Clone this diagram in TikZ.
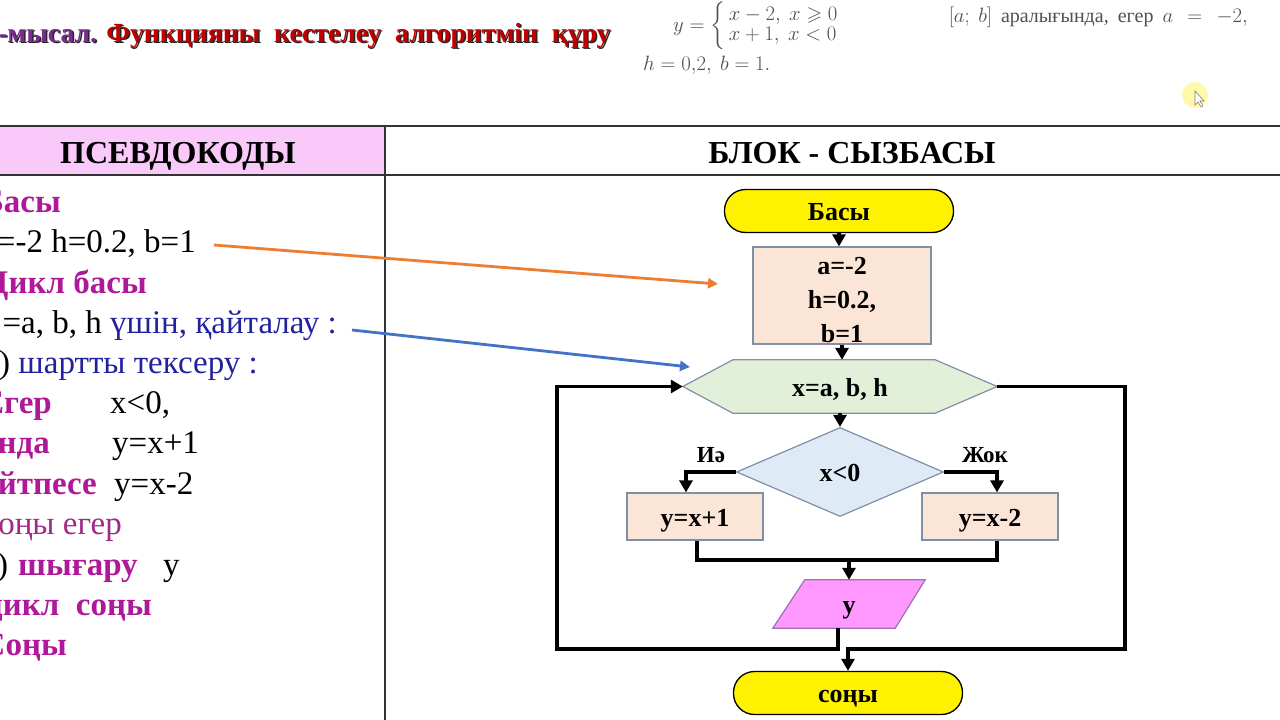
\documentclass[tikz,border=0pt]{standalone}
\usepackage{amsmath,amssymb}
\usepackage[no-math]{fontspec}
\setmainfont{Liberation Serif}
\usetikzlibrary{arrows.meta,shapes.geometric,calc,backgrounds}
\definecolor{mag}{HTML}{B0189A}
\definecolor{magl}{HTML}{A02A88}
\definecolor{navyb}{HTML}{2222A0}
\definecolor{purp}{HTML}{7A2B90}
\definecolor{dred}{HTML}{C00000}
\definecolor{mathgray}{HTML}{505050}
\definecolor{hdrpink}{HTML}{F9C9F9}
\definecolor{peach}{HTML}{FBE5D6}
\definecolor{lgreen}{HTML}{E2F0D9}
\definecolor{lblue}{HTML}{DEEBF7}
\definecolor{outpink}{HTML}{FF99FF}
\definecolor{bordgray}{HTML}{7F8FA6}
\definecolor{bordpurp}{HTML}{9A70B8}
\definecolor{oarrow}{HTML}{ED7D31}
\definecolor{barrow}{HTML}{4472C4}
\begin{document}
\begin{tikzpicture}[x=1pt,y=-1pt,
  code/.style={anchor=base east,inner sep=0pt,font=\fontsize{33}{38}\selectfont},
  codeb/.style={code,text=mag,font=\fontsize{33}{38}\selectfont\bfseries},
  fc/.style={font=\fontsize{26}{34}\selectfont\bfseries,inner sep=0pt,align=center},
  fcl/.style={fc,text height=23pt,text depth=4pt},
  oval/.style={fcl,draw=black,line width=1.3pt,fill=yellow,rounded corners=21pt,minimum width=229pt,minimum height=43pt},
  procbox/.style={fcl,draw=bordgray,line width=1.2pt,fill=peach},
  conn/.style={line width=3.5pt,line join=miter,black},
  arr/.style={conn,-{Triangle[length=12pt,width=13pt]}},
  hint/.style={line width=2.8pt,-{Triangle[length=10pt,width=10pt]}},
  hdr/.style={font=\fontsize{32}{38}\selectfont\bfseries,inner sep=0pt},
  mtext/.style={text=mathgray,inner sep=0pt,font=\fontsize{20}{20}\selectfont}
]
\useasboundingbox (0,0) rectangle (1280,720);

% title
\node[anchor=base west,inner sep=0pt,font=\fontsize{27.7}{30}\selectfont\bfseries,text=black!85] (titleshadow) at (-0.5,43.5) {-мысал. Функцияны~~кестелеу~~алгоритмін~~құру};
\node[anchor=base west,inner sep=0pt,font=\fontsize{27.7}{30}\selectfont\bfseries] (title) at (-2,42) {\textcolor{purp}{-мысал.} \textcolor{dred}{Функцияны~~кестелеу~~алгоритмін~~құру}};

% textbook formula
\node[mtext,anchor=west] (formula) at (673,26) {$y=\left\{\begin{array}{@{\,}l@{}} x-2,\ x\geqslant 0\\ x+1,\ x<0\end{array}\right.$};
\node[mtext,anchor=base east] (interval) at (1248,22) {$[a;\ b]$\hspace{4pt} аралығында,\hspace{4pt} егер\hspace{4pt} $a\ \,=\ \,-2,$};
\node[mtext,anchor=base west] (hval) at (643,70) {$h=0{,}2,\ b=1.$};

% cursor highlight
\fill[yellow!55,opacity=0.6] (1195,95) circle (13);
\draw[gray,line width=0.6pt,fill=white] (1195,91) -- (1195,105) -- (1198,102) -- (1201,107) -- (1203,106) -- (1200,101) -- (1204,101) -- cycle;

% table
\fill[hdrpink] (0,126) rectangle (385,175);
\draw[black!80,line width=1.3pt] (0,126) -- (1280,126);
\draw[black!80,line width=1.3pt] (0,175) -- (1280,175);
\draw[black!80,line width=1.3pt] (385,126) -- (385,720);
\node[hdr,anchor=base] (hdr1) at (178,163) {ПСЕВДОКОДЫ};
\node[hdr,anchor=base] (hdr2) at (852,163) {БЛОК - СЫЗБАСЫ};

% pseudocode
\node[codeb] (l1) at (61,212) {Басы};
\node[code] (l2) at (196,252) {=-2 h=0.2, b=1};
\node[codeb] (l3) at (147,293) {Цикл басы};
\node[code] (l4) at (337,333) {=a, b, h \textcolor{navyb}{үшін, қайталау :}};
\node[code] (l5) at (258,373) {) \textcolor{navyb}{шартты тексеру :}};
\node[codeb] (l6a) at (52,413) {Егер};
\node[code,anchor=base west] (l6b) at (110,413) {x<0,};
\node[codeb] (l7a) at (50,453) {онда};
\node[code,anchor=base west] (l7b) at (112,453) {y=x+1};
\node[codeb] (l8a) at (97,494) {йтпесе};
\node[code,anchor=base west] (l8b) at (114,494) {y=x-2};
\node[code,text=magl] (l9) at (122,534) {соңы егер};
\node[code,anchor=base west] (l10a) at (-3,575) {)};
\node[codeb,anchor=base west] (l10b) at (18,575) {шығару};
\node[code,anchor=base west] (l10c) at (163,575) {y};
\node[codeb] (l11) at (152,615) {цикл~~соңы};
\node[codeb] (l12) at (67,655) {Соңы};

% flowchart nodes
\node[oval] (start) at (839,211) {Басы};
\node[procbox,minimum width=178pt,minimum height=97pt] (init) at (842,295.5) {};
\node[fc] (initText) at (842,300) {a=-2\\h=0.2,\\b=1};
\node[fcl,minimum width=314pt,minimum height=53pt] (hex) at (840,386.5) {x=a, b, h};
\node[fcl,diamond,draw=bordgray,line width=1.2pt,fill=lblue,minimum width=207pt,minimum height=89pt] (dia) at (840,472) {x<0};
\node[procbox,minimum width=136pt,minimum height=47pt] (yes) at (695,516.5) {y=x+1};
\node[procbox,minimum width=136pt,minimum height=47pt] (no) at (990,516.5) {y=x-2};
\node[fcl,minimum width=152pt,minimum height=48pt] (out) at (849,604) {y};
\node[oval] (end) at (848,693) {соңы};
\node[fc,font=\fontsize{23}{26}\selectfont\bfseries] (lyes) at (711,455) {Иә};
\node[fc,font=\fontsize{23}{26}\selectfont\bfseries] (lno) at (985,455) {Жок};

\begin{scope}[on background layer]
\fill[white] (0,0) rectangle (1280,720);
\draw[draw=bordgray,line width=1.2pt,fill=lgreen] (hex.west) -- ($(hex.north west)+(50,0)$) -- ($(hex.north east)+(-62,0)$) -- (hex.east) -- ($(hex.south east)+(-62,0)$) -- ($(hex.south west)+(50,0)$) -- cycle;
\draw[draw=bordpurp,line width=1.2pt,fill=outpink] (out.south west) -- ($(out.north west)+(32,0)$) -- (out.north east) -- ($(out.south east)+(-30,0)$) -- cycle;
\end{scope}

% connectors
\draw[arr] (start.south) -- (start.south |- init.north);
\draw[arr] (init.south) -- (init.south |- hex.north);
\draw[arr] (hex.south) -- (hex.south |- dia.north);
\draw[arr] (dia.west) -| ([xshift=-9pt]yes.north);
\draw[arr] (dia.east) -| ([xshift=7pt]no.north);
\coordinate (merge) at (849,560);
\draw[conn] ([xshift=2pt]yes.south) |- (merge) -| ([xshift=7pt]no.south);
\draw[arr] (merge) -- (merge |- out.north);
\coordinate (lb) at (557,649);
\draw[arr] ([xshift=-11pt]out.south) |- (lb) |- (hex.west);
\coordinate (rt) at (1125,649);
\draw[arr] (hex.east) -| (rt) -| (end.north);

% hint arrows
\coordinate (oStart) at (214,245);
\coordinate (oTip) at (718,284);
\draw[hint,oarrow] (oStart) -- (oTip);
\coordinate (bStart) at (352,330);
\coordinate (bTip) at (690,367);
\draw[hint,barrow] (bStart) -- (bTip);
\end{tikzpicture}
\end{document}
